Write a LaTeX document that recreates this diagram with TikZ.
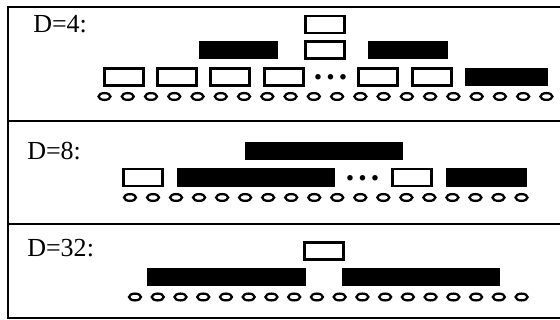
\documentclass[tikz,border=0pt]{standalone}
\usepackage{fontspec}
\setmainfont{Liberation Serif}
\usetikzlibrary{shapes.geometric}
\tikzset{
    wbox/.style={draw, line width=1.6pt, inner sep=0pt, minimum width=0.97cm, minimum height=0.42cm}, % empty block
    bbox/.style={fill=black, inner sep=0pt, minimum height=0.47cm}, % filled block
    leaf/.style={ellipse, draw, line width=1.6pt, inner sep=0pt, minimum width=0.3cm, minimum height=0.17cm},
    lbl/.style={anchor=base west, inner sep=0pt, font=\fontsize{18.5}{20}\selectfont},
    gap/.style={anchor=base, inner sep=0pt, font=\fontsize{24}{26}\selectfont\bfseries},
    frame/.style={line width=1.5pt},
}

\begin{document}
\begin{tikzpicture}[x=0.025cm, y=-0.025cm]
  \useasboundingbox (0,0) rectangle (560,320);
  \draw[frame] (560,7) -- (8,7) -- (8,318) -- (560,318);
  \draw[frame] (8,121) -- (560,121);
  \draw[frame] (8,224) -- (560,224);

  % D=4
  \node[lbl] (d4) at (33,33) {D=4:};
  \node[wbox] (p1top) at (325,24.5) {};
  \node[wbox] (p1mid) at (325,50) {};
  \node[bbox, minimum width=1.98cm] (p1l) at (238.5,50) {};
  \node[bbox, minimum width=2cm] (p1r) at (408,50) {};
  \foreach \x [count=\i] in {124,177,230,284,378,432}
    \node[wbox] (p1w\i) at (\x,77) {};
  \node[gap] (p1gap) at (330.5,80) {.\kern2.9pt.\kern2.9pt.};
  \node[bbox, minimum width=2.075cm] (p1b) at (506.5,77) {};
  \foreach \i in {0,...,19}
    \node[leaf] (p1c\i) at (104.5+23.26*\i,96.5) {};

  % D=8
  \node[lbl] (d8) at (27,160) {D=8:};
  \node[bbox, minimum width=3.95cm] (p2top) at (324,151) {};
  \node[wbox] (p2w1) at (143,177.5) {};
  \node[bbox, minimum width=3.95cm] (p2b1) at (256,177.5) {};
  \node[gap] (p2gap) at (362.5,180.5) {.\kern2.9pt.\kern2.9pt.};
  \node[wbox] (p2w2) at (412,177.5) {};
  \node[bbox, minimum width=2.025cm] (p2b2) at (486.5,177.5) {};
  \foreach \i in {0,...,17}
    \node[leaf] (p2c\i) at (130+23.03*\i,197.5) {};

  % D=32
  \node[lbl] (d32) at (27,257) {D=32:};
  \node[wbox] (p3top) at (324,251) {};
  \node[bbox, minimum width=3.975cm] (p3l) at (226.5,277) {};
  \node[bbox, minimum width=3.95cm] (p3r) at (421,277) {};
  \foreach \i in {0,...,17}
    \node[leaf] (p3c\i) at (135+22.74*\i,297) {};
\end{tikzpicture}
\end{document}
